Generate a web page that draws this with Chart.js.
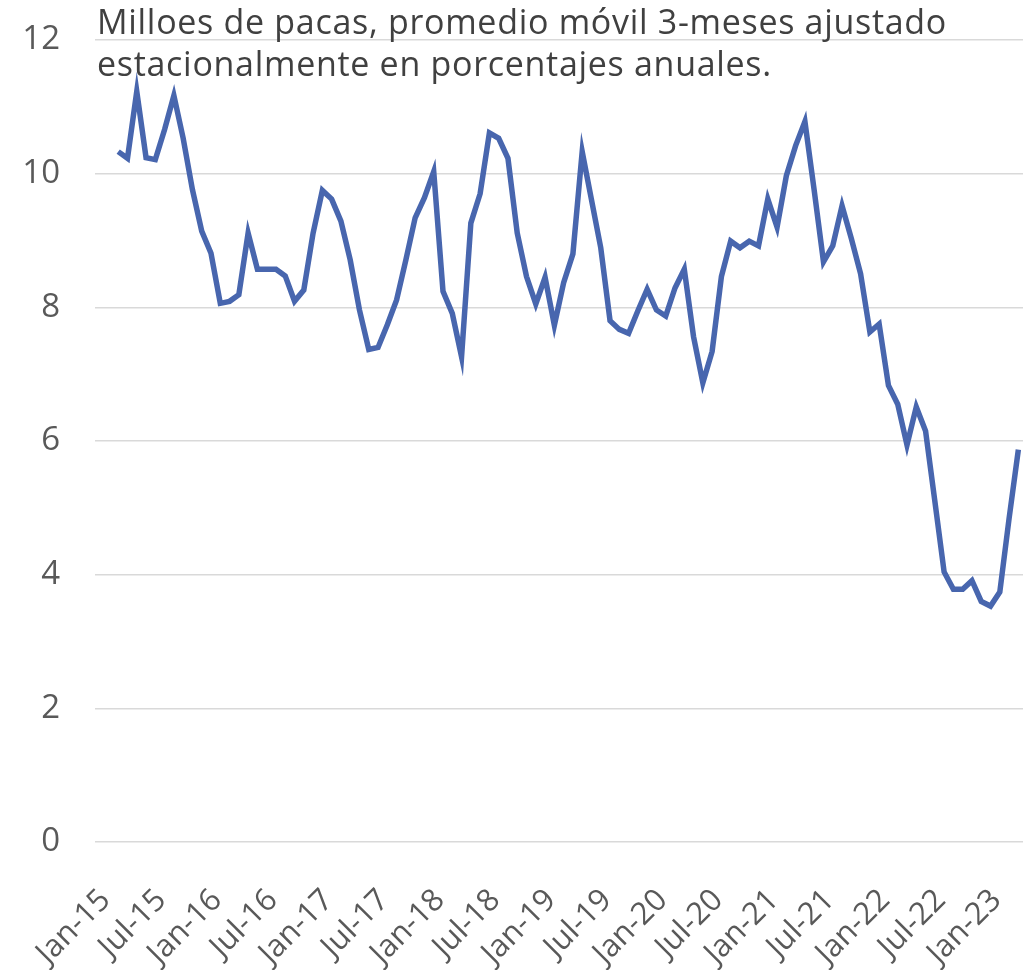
<!DOCTYPE html>
<html>
<head>
<meta charset="utf-8">
<script src="https://cdn.jsdelivr.net/npm/chart.js@4/dist/chart.umd.min.js"></script>
<style>
    html, body { margin: 0; padding: 0; background: #ffffff; }
    #wrap { position: relative; width: 1035px; height: 970px; }
    #title {
        position: absolute;
        left: 97px;
        top: 0px;
        font-family: "Open Sans", sans-serif;
        font-size: 34px;
        letter-spacing: 0.7px;
        line-height: 42px;
        color: #404040;
        white-space: nowrap;
        pointer-events: none;
    }
</style>
</head>
<body>
<div id="wrap">
    <canvas id="chart" width="1035" height="970"></canvas>
    <div id="title">Milloes de pacas, promedio móvil 3-meses ajustado<br>estacionalmente en porcentajes anuales.</div>
</div>
<script>
// Month categories, Jan-15 .. Apr-23
const monthNames = ['Jan', 'Feb', 'Mar', 'Apr', 'May', 'Jun', 'Jul', 'Aug', 'Sep', 'Oct', 'Nov', 'Dec'];
const firstYear = 15;
const lastYear = 23;
const lastMonthOfLastYear = 4;

const labels = [];
for (let y = firstYear; y <= lastYear; y++) {
    const upTo = y === lastYear ? lastMonthOfLastYear : 12;
    for (let m = 0; m < upTo; m++) {
        labels.push(`${monthNames[m]}-${y}`);
    }
}

// 3-month moving average (first two months have no value)
const bales = [null, null,
    10.33, 10.23, 11.23, 10.24, 10.21, 10.66, 11.17, 10.53, 9.76, 9.14,
    8.81, 8.06, 8.09, 8.19, 9.11, 8.57, 8.57, 8.57, 8.47, 8.09,
    8.26, 9.11, 9.75, 9.62, 9.29, 8.71, 7.96, 7.37, 7.40, 7.74,
    8.11, 8.71, 9.34, 9.64, 10.03, 8.24, 7.91, 7.26, 9.26, 9.70,
    10.61, 10.53, 10.23, 9.11, 8.46, 8.05, 8.45, 7.73, 8.37, 8.80,
    10.33, 9.61, 8.89, 7.80, 7.67, 7.61, 7.95, 8.27, 7.96, 7.87,
    8.29, 8.57, 7.56, 6.87, 7.34, 8.46, 8.99, 8.89, 8.99, 8.92,
    9.62, 9.20, 9.97, 10.42, 10.78, 9.75, 8.68, 8.92, 9.52, 9.03,
    8.50, 7.63, 7.75, 6.83, 6.55, 5.94, 6.51, 6.15, 5.10, 4.04,
    3.78, 3.78, 3.91, 3.60, 3.53, 3.74, 4.84, 5.87];

const yMin = 0;
const yMax = 12;
const yStep = 2;
const labelEvery = 6;

const tickColor = '#595959';
const gridColor = '#d9d9d9';
const lineColor = '#4866ae';

const ctx = document.getElementById('chart').getContext('2d');

new Chart(ctx, {
    type: 'line',
    data: {
        labels: labels,
        datasets: [{
            data: bales,
            borderColor: lineColor,
            borderWidth: 5.5,
            pointRadius: 0,
            tension: 0,
            fill: false,
            spanGaps: false
        }]
    },
    options: {
        responsive: false,
        animation: false,
        layout: {
            padding: { top: 40, right: 12, left: 0, bottom: 0 }
        },
        plugins: {
            legend: { display: false },
            tooltip: { enabled: false }
        },
        scales: {
            x: {
                offset: true,
                grid: { display: false, drawTicks: false },
                border: { display: false },
                ticks: {
                    autoSkip: false,
                    minRotation: 45,
                    maxRotation: 45,
                    padding: 40,
                    labelOffset: 6,
                    color: tickColor,
                    font: { family: 'Open Sans', size: 31 },
                    callback: function (value, index) {
                        return index % labelEvery === 0 ? this.getLabelForValue(value) : '';
                    }
                },
                afterFit: (scale) => {
                    scale.height = 128;
                    scale.paddingLeft = 0;
                    scale.paddingRight = 0;
                }
            },
            y: {
                min: yMin,
                max: yMax,
                grid: { color: gridColor, lineWidth: 1.5, drawTicks: false },
                border: { display: false },
                ticks: {
                    stepSize: yStep,
                    padding: 35,
                    color: tickColor,
                    font: { family: 'Open Sans', size: 33 }
                },
                afterFit: (scale) => {
                    scale.width = 95;
                    scale.paddingTop = 0;
                    scale.paddingBottom = 0;
                }
            }
        }
    }
});
</script>
</body>
</html>
